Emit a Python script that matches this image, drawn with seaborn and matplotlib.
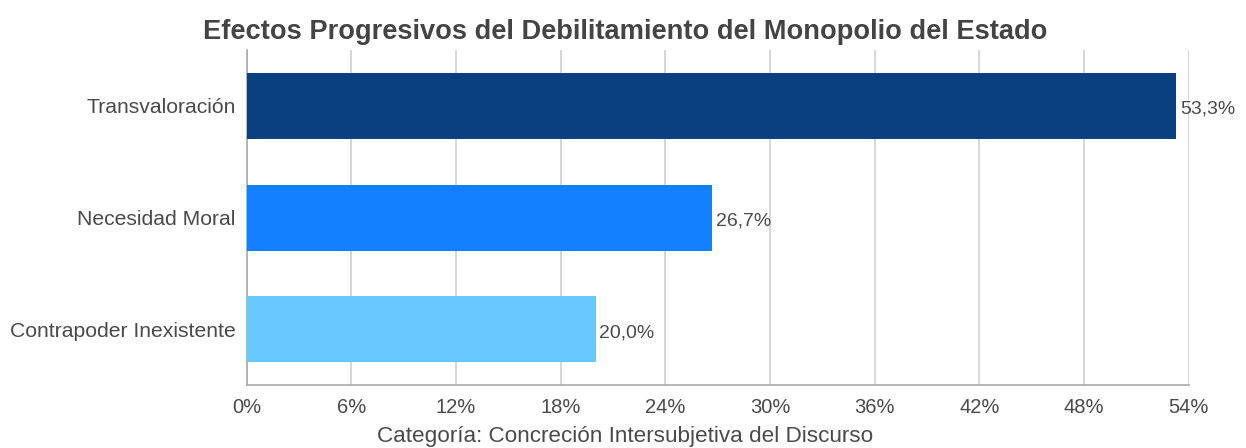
import seaborn as sns
import pandas as pd
import matplotlib.pyplot as plt
from matplotlib.ticker import FuncFormatter

sns.set_theme(style="white")
plt.rcParams['font.family'] = ['Liberation Sans', 'DejaVu Sans']

categories = ['Transvaloración', 'Necesidad Moral', 'Contrapoder Inexistente']
values = [53.3, 26.7, 20.0]
colors = ['#0a3f80', '#1380ff', '#66c8ff']
x_ticks = [0, 6, 12, 18, 24, 30, 36, 42, 48, 54]

df = pd.DataFrame({'categoria': categories, 'porcentaje': values})

fig = plt.figure(figsize=(12.46, 4.48), dpi=100)
ax = fig.add_axes([0.198, 0.1406, 0.756, 0.7474])

sns.barplot(data=df, x='porcentaje', y='categoria', hue='categoria',
            palette=colors, saturation=1, width=0.59, linewidth=0,
            legend=False, ax=ax, zorder=3)

ax.set_xlim(0, 54)
ax.set_ylim(2.5, -0.5)
ax.set_xticks(x_ticks)
ax.xaxis.set_major_formatter(FuncFormatter(lambda v, p: f'{v:.0f}%'))
ax.grid(axis='x', color='#d0d0d0', linewidth=1.2, zorder=0)
ax.set_axisbelow(True)

for s in ['top', 'right']:
    ax.spines[s].set_visible(False)
for s in ['left', 'bottom']:
    ax.spines[s].set_color('#aaaaaa')
    ax.spines[s].set_linewidth(1.2)

ax.tick_params(axis='x', colors='#d0d0d0', length=5, width=1.2, labelcolor='#4a4a4a', labelsize=14.5, pad=4)
ax.tick_params(axis='y', length=0, labelcolor='#4a4a4a', labelsize=15.2, pad=8)

for i, v in enumerate(values):
    ax.text(v + 0.2, i + 0.03, f'{v:.1f}%'.replace('.', ','), va='center', ha='left',
            fontsize=14, color='#4a4a4a', zorder=4)

ax.set_xlabel('')
ax.set_ylabel('')
fig.text(0.502, 0.003, 'Categoría: Concreción Intersubjetiva del Discurso', ha='center',
         va='bottom', fontsize=16.2, color='#4a4a4a')
fig.text(0.502, 0.958, 'Efectos Progresivos del Debilitamiento del Monopolio del Estado',
         ha='center', va='top', fontsize=19.6, fontweight='bold', color='#444444')

fig.savefig('out.png', dpi=100)
